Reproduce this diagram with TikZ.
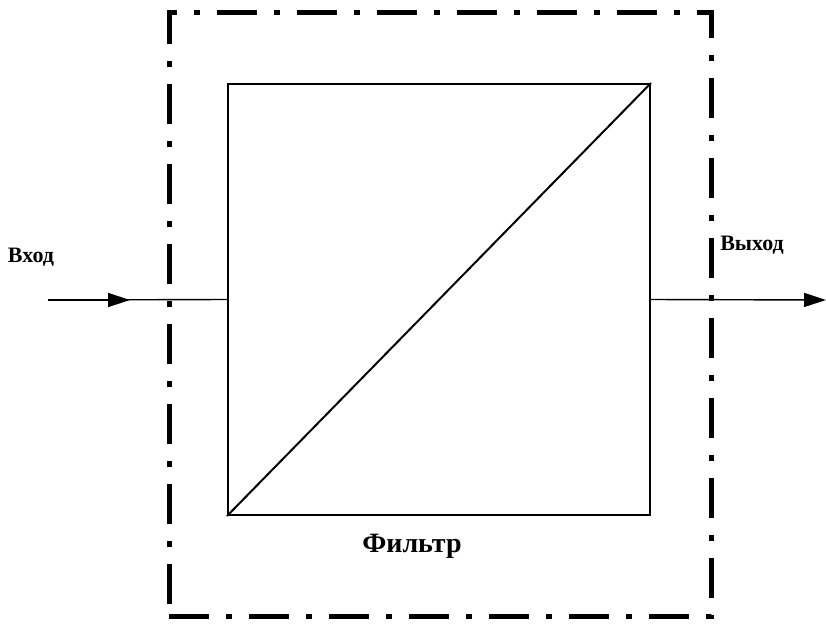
\documentclass[tikz,border=0pt]{standalone}
\usepackage{fontspec}
\setmainfont{Liberation Serif}
\usetikzlibrary{arrows.meta,positioning}

\begin{document}
\begin{tikzpicture}[x=1pt, y=-1pt, >={Triangle[length=22pt,width=14pt]},
  lbl/.style={font=\bfseries\fontsize{22}{22}\selectfont, inner sep=0pt},
  blk/.style={draw, line width=2pt, minimum width=422pt, minimum height=431pt, inner sep=0pt},
  frm/.style={draw, line width=5pt, dash pattern=on 40pt off 17pt on 6pt off 17pt,
    minimum width=542pt, minimum height=604pt, inner sep=0pt}]
\useasboundingbox (0,0) rectangle (826,629);
% ---------------- frame and filter
\node[frm] (frame) at (440,314) {};
\node[blk] (filter) at (439,299.5) {};
\draw[line width=2pt] (filter.south west) -- (filter.north east);
\node[lbl, font=\bfseries\fontsize{28}{28}\selectfont] (fname) at (412,546) {Фильтр};
% ---------------- input / output
\coordinate (in) at (48,300);
\coordinate (out) at (826,300);
\draw[line width=1.4pt] (in) -- (filter.west);
\draw[->, line width=1.4pt] (in) -- ++(82,0);
\draw[->, line width=1.4pt] (filter.east) -- (out);
\node[lbl] (inlbl) at (31,257) {Вход};
\node[lbl] (outlbl) at (752,245) {Выход};
\end{tikzpicture}
\end{document}
